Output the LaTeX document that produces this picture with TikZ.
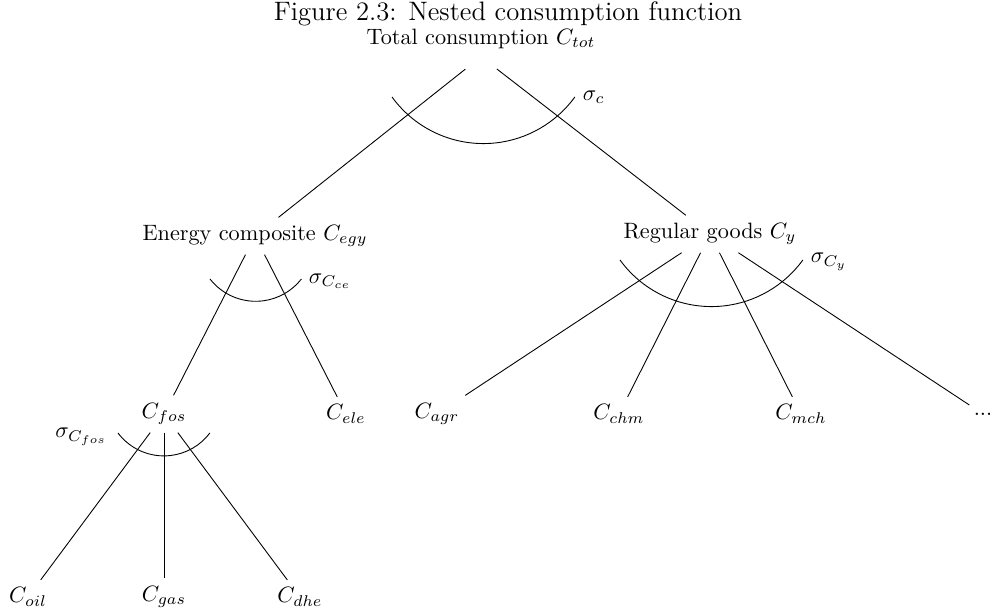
\documentclass[tikz,border=0pt]{standalone}
\begin{document}
\begin{tikzpicture}[x=0.45pt,y=-0.45pt]
  \useasboundingbox (0,0) rectangle (990,611);
  \node[anchor=base] (title) at (508,21) {\large Figure 2.3: Nested consumption function};

  \node (tot) at (481,39) {Total consumption $C_{tot}$};
  \node (egy) at (255,236) {Energy composite $C_{egy}$};
  \node (reg) at (710,234) {Regular goods $C_y$};
  \node (fos) at (164,414) {$C_{fos}$};
  \node (ele) at (346,414) {$C_{ele}$};
  \node (agr) at (437,414) {$C_{agr}$};
  \node (chm) at (619,414) {$C_{chm}$};
  \node (mch) at (801,414) {$C_{mch}$};
  \node (dots) at (983,414) {...};
  \node (oil) at (28,597) {$C_{oil}$};
  \node (gas) at (164,597) {$C_{gas}$};
  \node (dhe) at (300,597) {$C_{dhe}$};

  \foreach \v in {egy,reg}
    \draw[shorten <=9pt] (tot.south) -- (\v);
  \foreach \v in {fos,ele}
    \draw (egy) -- (\v);
  \foreach \v in {agr,chm,mch,dots}
    \draw (reg) -- (\v);
  \foreach \v in {oil,gas,dhe}
    \draw (fos) -- (\v);

  \draw (392,97) arc[start angle=144,end angle=36,radius=113];
  \draw (620,260) arc[start angle=144,end angle=36,radius=113];
  \draw (210,279) arc[start angle=142,end angle=38,radius=58];
  \draw (118,433) arc[start angle=143,end angle=37,radius=57.5];

  \node[anchor=west] (sig-c) at (575,97) {$\sigma_c$};
  \node[anchor=west] (sig-ce) at (301,281) {$\sigma_{C_{ce}}$};
  \node[anchor=west] (sig-y) at (803,262) {$\sigma_{C_y}$};
  \node[anchor=east] (sig-fos) at (115,437) {$\sigma_{C_{fos}}$};
\end{tikzpicture}
\end{document}
